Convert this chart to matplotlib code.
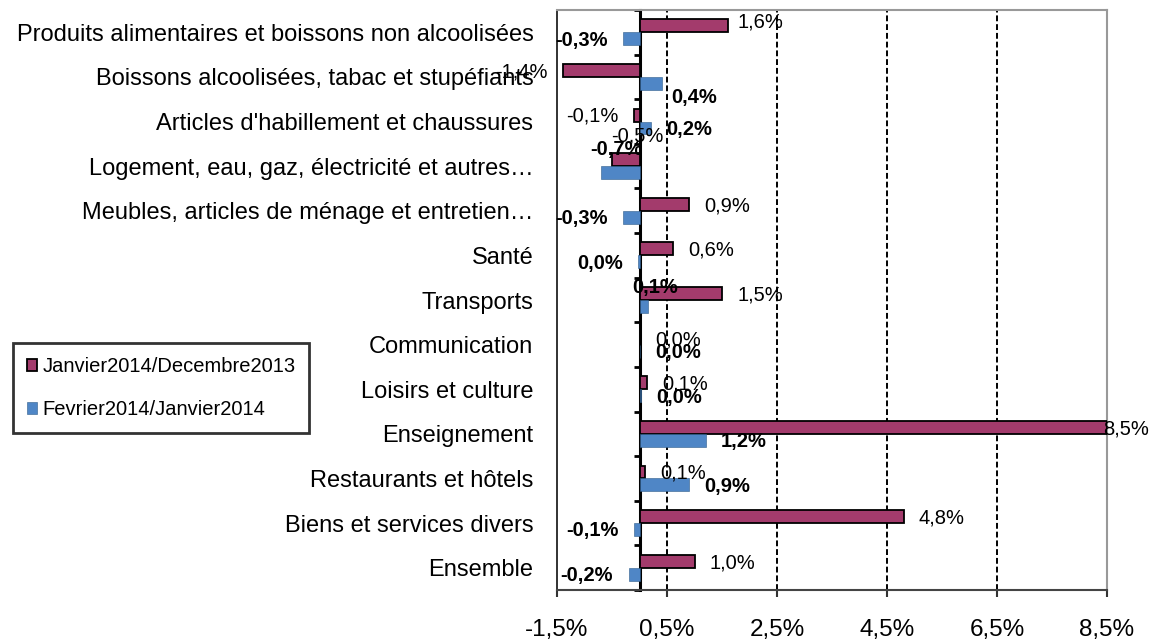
import matplotlib
matplotlib.use('Agg')
import matplotlib.pyplot as plt
import numpy as np

plt.rcParams['font.family'] = ['Liberation Sans', 'DejaVu Sans']

categories = ['Produits alimentaires et boissons non alcoolisées',
              'Boissons alcoolisées, tabac et stupéfiants',
              "Articles d'habillement et chaussures",
              'Logement, eau, gaz, électricité et autres…',
              'Meubles, articles de ménage et entretien…',
              'Santé',
              'Transports',
              'Communication',
              'Loisirs et culture',
              'Enseignement',
              'Restaurants et hôtels',
              'Biens et services divers',
              'Ensemble']
jan_dec = [1.6, -1.4, -0.1, -0.5, 0.9, 0.6, 1.5, 0.0, 0.13, 8.5, 0.1, 4.8, 1.0]
feb_jan = [-0.3, 0.4, 0.2, -0.7, -0.3, -0.02, 0.15, 0.0, 0.02, 1.2, 0.9, -0.1, -0.2]
series_names = ['Janvier2014/Decembre2013', 'Fevrier2014/Janvier2014']
xticks = [-1.5, 0.5, 2.5, 4.5, 6.5, 8.5]

# manual label nudges (points) where the original labels were moved by hand
nudge_jan = {0: (-4, 4), 3: (48, 18), 9: (-14, 0)}
nudge_feb = {1: (-4, -9), 3: (41, 18), 6: (-22, 15)}

JAN_COL = '#A33B6C'
FEB_COL = '#4F86C6'


def fmt(v):
    r = round(v, 1)
    if r == 0:
        r = 0.0
    return ('%.1f%%' % r).replace('.', ',').replace('-0,0', '0,0')


fig = plt.figure(figsize=(11.52, 6.41), dpi=100)
ax = fig.add_axes([557/1152, 1-590/641, 550/1152, 580/641])

y = np.arange(len(categories))
b1 = ax.barh(y - 0.145, jan_dec, height=0.29, color=JAN_COL, edgecolor='black',
             linewidth=1.3, zorder=3, label=series_names[0])
b2 = ax.barh(y + 0.145, feb_jan, height=0.29, color=FEB_COL, edgecolor='#2E5C8A',
             linewidth=0.4, zorder=3, label=series_names[1])

ax.set_xlim(-1.5, 8.5)
ax.set_ylim(len(categories) - 0.5, -0.5)

for g in xticks[1:]:
    ax.axvline(g, color='black', lw=1.4, linestyle=(0, (3, 1.5)), zorder=1)

ax.set_xticks(xticks)
ax.set_xticklabels([('%.1f%%' % t).replace('.', ',') for t in xticks], fontsize=17.5)
ax.tick_params(axis='x', direction='out', length=5, width=1.5, pad=16, color='#333333')

ax.set_yticks(y)
ax.set_yticklabels(categories, fontsize=17)
ax.tick_params(axis='y', length=0, pad=17)

ax.spines['left'].set_color('#222222')
ax.spines['left'].set_linewidth(1.3)
ax.spines['bottom'].set_color('#444444')
ax.spines['bottom'].set_linewidth(1.5)
ax.spines['top'].set_color('#999999')
ax.spines['top'].set_linewidth(1.5)
ax.spines['right'].set_color('#999999')
ax.spines['right'].set_linewidth(1.5)

# zero axis with category tick marks
x0, x1 = ax.get_xlim()
sec = ax.secondary_yaxis((0 - x0) / (x1 - x0))
sec.set_yticks(np.arange(len(categories) + 1) - 0.5)
sec.set_yticklabels([])
sec.tick_params(direction='out', length=4.5, width=2, color='black')
sec.spines['left'].set_linewidth(2.2)
sec.spines['left'].set_color('black')
sec.spines['left'].set_zorder(5)

# data labels
for i, v in enumerate(jan_dec):
    dx, dy = nudge_jan.get(i, (0, 0))
    if v < 0:
        ax.annotate(fmt(v), (v, i - 0.145), xytext=(-11 + dx, -1 + dy), textcoords='offset points',
                    ha='right', va='center', fontsize=14.5, zorder=6)
    else:
        ax.annotate(fmt(v), (v, i - 0.145), xytext=(11 + dx, -1 + dy), textcoords='offset points',
                    ha='left', va='center', fontsize=14.5, zorder=6, annotation_clip=False)

for i, v in enumerate(feb_jan):
    dx, dy = nudge_feb.get(i, (0, 0))
    if v < 0:
        ax.annotate(fmt(v), (v, i + 0.145), xytext=(-11 + dx, -1 + dy), textcoords='offset points',
                    ha='right', va='center', fontsize=14.5, fontweight='bold', zorder=6)
    else:
        ax.annotate(fmt(v), (v, i + 0.145), xytext=(11 + dx, -1 + dy), textcoords='offset points',
                    ha='left', va='center', fontsize=14.5, fontweight='bold', zorder=6)

leg = fig.legend(handles=[b1, b2], loc='upper left', bbox_to_anchor=(13/1152, 1-343/641),
                 fontsize=14.5, frameon=True, fancybox=False, handlelength=0.5, handleheight=0.5,
                 handletextpad=0.25, labelspacing=1.2, borderpad=0.7, borderaxespad=0)
leg.get_frame().set_edgecolor('black')
leg.get_frame().set_linewidth(2)

fig.savefig('out.png', dpi=100)
